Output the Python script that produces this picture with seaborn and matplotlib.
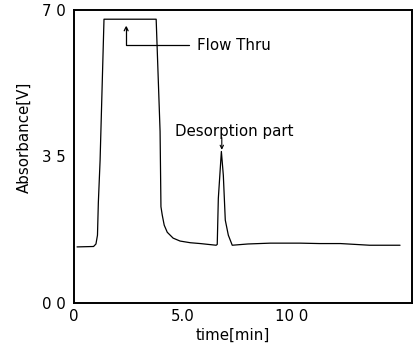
import matplotlib
matplotlib.use("Agg")
import matplotlib.pyplot as plt
import seaborn as sns
import pandas as pd

# ---- data ----
time_min = [0.14, 0.90, 1.01, 1.08, 1.12, 1.20, 1.38, 2.5, 3.78, 3.96, 4.00,
            4.06, 4.15, 4.29, 4.56, 4.88, 5.35, 5.81, 6.54, 6.59, 6.64, 6.78,
            6.87, 6.96, 7.10, 7.28, 8.0, 9.03, 10.4, 11.3, 12.26, 13.6, 15.0]
absorbance = [1.34, 1.35, 1.41, 1.62, 2.4, 3.4, 6.78, 6.78, 6.78, 4.10, 2.30,
              2.10, 1.86, 1.69, 1.55, 1.48, 1.44, 1.42, 1.38, 1.40, 2.5, 3.62,
              3.05, 1.98, 1.62, 1.38, 1.41, 1.43, 1.43, 1.42, 1.42, 1.38, 1.38]

x_ticks = [0, 5, 10]
x_tick_labels = ["0", "5.0", "10 0"]
y_ticks = [0, 3.5, 7.0]
y_tick_labels = ["0 0", "3 5", "7 0"]

flow_label = "Flow Thru"
flow_arrow_xy = (2.40, 6.63)
flow_text_xy = (5.65, 6.16)
desorp_label = "Desorption part"
desorp_text_xy = (4.65, 4.10)
desorp_arrow_from = (6.80, 3.95)
desorp_arrow_to = (6.80, 3.66)

df = pd.DataFrame({"time": time_min, "abs": absorbance})

sns.set_style("white")
plt.rcParams["font.family"] = ["DejaVu Sans"]
plt.rcParams["text.color"] = "black"
plt.rcParams["axes.labelcolor"] = "black"
plt.rcParams["xtick.color"] = "black"
plt.rcParams["ytick.color"] = "black"
FS = 10.8

fig = plt.figure(figsize=(4.14, 3.46), dpi=100)
ax = fig.add_axes([74 / 414, (346 - 303) / 346, (412 - 74) / 414, (303 - 10) / 346])

sns.lineplot(data=df, x="time", y="abs", sort=False, color="black",
             linewidth=0.9, ax=ax)

ax.set_xlim(0, 15.55)
ax.set_ylim(0, 7.0)
ax.set_xticks(x_ticks)
ax.set_xticklabels(x_tick_labels, fontsize=FS)
ax.set_yticks(y_ticks)
ax.set_yticklabels(y_tick_labels, fontsize=FS)
ax.tick_params(axis="x", direction="in", length=9.5, width=1.3, pad=4, colors="black")
ax.tick_params(axis="y", direction="in", length=6, width=1.3, pad=6, colors="black")

for s in ax.spines.values():
    s.set_visible(True)
    s.set_color("black")
    s.set_linewidth(1.4)

ax.set_xlabel("time[min]", fontsize=FS, color="black")
ax.set_ylabel("Absorbance[V]", fontsize=FS, color="black")
ax.xaxis.set_label_coords(0.47, -0.085)
ax.yaxis.set_label_coords(-0.125, 0.567)

ax.annotate(flow_label, xy=flow_arrow_xy, xytext=flow_text_xy,
            fontsize=FS, ha="left", va="center", color="black",
            arrowprops=dict(arrowstyle="->", color="black", lw=0.9,
                            connectionstyle="angle,angleA=0,angleB=90,rad=0",
                            shrinkA=3, shrinkB=0, mutation_scale=7))

ax.text(desorp_text_xy[0], desorp_text_xy[1], desorp_label, fontsize=FS,
        ha="left", va="center", color="black")
ax.annotate("", xy=desorp_arrow_to, xytext=desorp_arrow_from,
            arrowprops=dict(arrowstyle="->", color="black", lw=0.8,
                            shrinkA=0, shrinkB=0, mutation_scale=6))

fig.savefig("out.png", dpi=100)
